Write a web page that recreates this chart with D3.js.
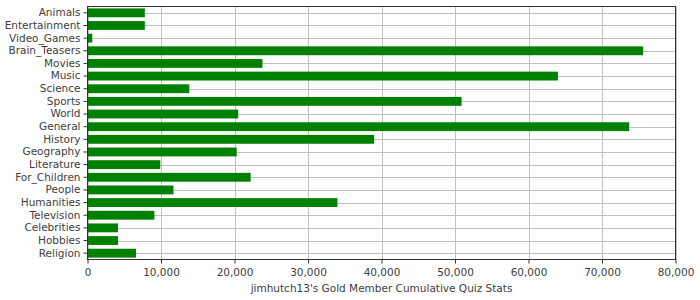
<!DOCTYPE html>
<html>
<head>
<meta charset="utf-8">
<script src="https://cdn.jsdelivr.net/npm/d3@7"></script>
<style>
  body { margin: 0; background: #fff; }
  svg text { font-family: "DejaVu Sans", sans-serif; font-size: 10.5px; fill: #404040; }
</style>
</head>
<body>
<svg id="chart" width="700" height="300"></svg>
<script>
// quiz categories, top to bottom
var categories = ['Animals', 'Entertainment', 'Video_Games', 'Brain_Teasers', 'Movies', 'Music',
	'Science', 'Sports', 'World', 'General', 'History', 'Geography', 'Literature', 'For_Children',
	'People', 'Humanities', 'Television', 'Celebrities', 'Hobbies', 'Religion'];

// cumulative points per category
var points = [7800, 7800, 650, 75600, 23800, 64000,
	13850, 50900, 20500, 73700, 39000, 20300, 9900, 22200,
	11700, 34000, 9100, 4150, 4150, 6600];

var xTicks = [0, 10000, 20000, 30000, 40000, 50000, 60000, 70000, 80000];
var xTitle = "jimhutch13's Gold Member Cumulative Quiz Stats";

var svg = d3.select('svg#chart');
// plot area (note: "top" would clash with window.top)
var plotL = 87.5, plotR = 675.5, plotT = 6.5, plotB = 259.5;

var x = d3.scaleLinear().domain([0, 80000]).range([plotL, plotR]);
var y = d3.scaleBand().domain(categories).range([plotT, plotB]).paddingInner(0.3).paddingOuter(0.15);

function rowMid(d) { return Math.round(y(d) + y.bandwidth() / 2) + 0.5; }

// gridlines
svg.append('g').selectAll('line')
	.data(xTicks)
	.enter().append('line')
	.attr('x1', function(d) { return Math.round(x(d)) + 0.5; })
	.attr('x2', function(d) { return Math.round(x(d)) + 0.5; })
	.attr('y1', plotT).attr('y2', plotB)
	.attr('stroke', '#c0c0c0');

svg.append('g').selectAll('line')
	.data(categories)
	.enter().append('line')
	.attr('x1', plotL).attr('x2', plotR)
	.attr('y1', rowMid).attr('y2', rowMid)
	.attr('stroke', '#c0c0c0');

// bars
svg.append('g').selectAll('rect')
	.data(categories)
	.enter().append('rect')
	.attr('x', plotL)
	.attr('y', function(d) { return y(d); })
	.attr('width', function(d, i) { return x(points[i]) - plotL; })
	.attr('height', y.bandwidth())
	.attr('fill', '#008000');

// plot border
svg.append('rect')
	.attr('x', plotL).attr('y', plotT)
	.attr('width', plotR - plotL).attr('height', plotB - plotT)
	.attr('fill', 'none').attr('stroke', '#333');

// axes
var xAxis = svg.append('g')
	.attr('transform', 'translate(0,' + plotB + ')')
	.call(d3.axisBottom(x).tickValues(xTicks).tickSize(4).tickPadding(5).tickFormat(d3.format(',')));

var yAxis = svg.append('g')
	.attr('transform', 'translate(' + plotL + ',0)')
	.call(d3.axisLeft(y).tickSize(4).tickPadding(3));

[xAxis, yAxis].forEach(function(a) {
	a.select('.domain').remove();
	a.selectAll('.tick line').attr('stroke', '#333');
	a.selectAll('.tick text').attr('font-family', null).attr('font-size', null).attr('fill', null);
});

svg.append('text')
	.attr('x', (plotL + plotR) / 2)
	.attr('y', 291.5)
	.attr('text-anchor', 'middle')
	.text(xTitle);
</script>
</body>
</html>
